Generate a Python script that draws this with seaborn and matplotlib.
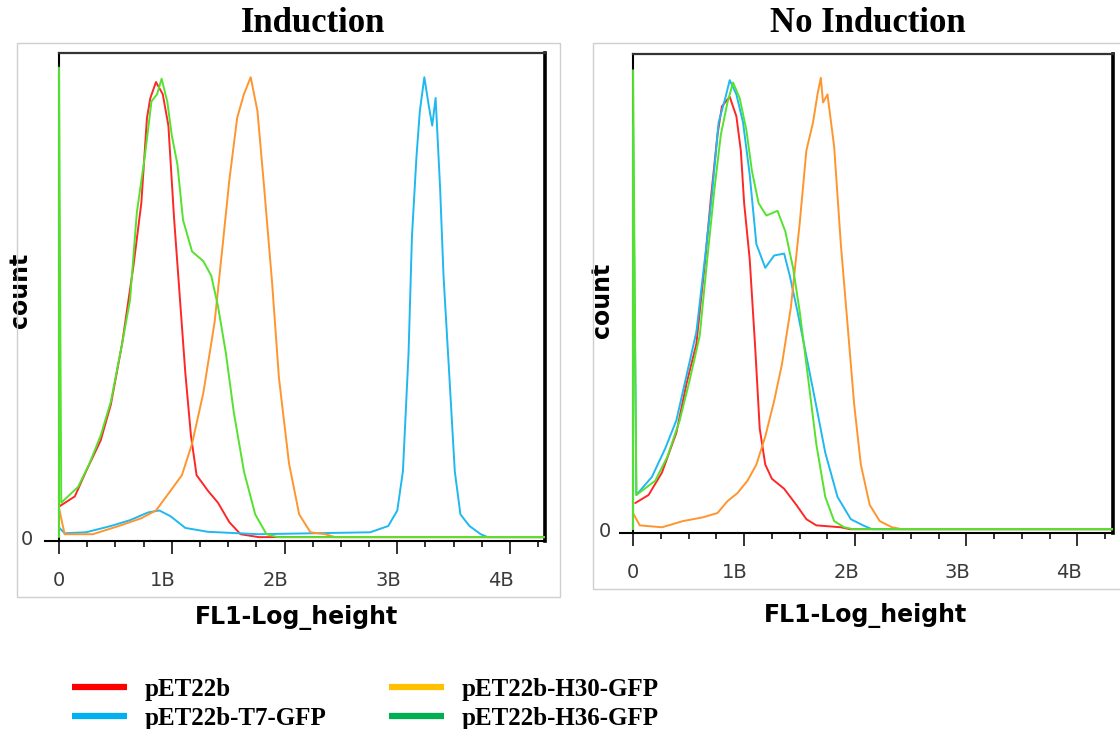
import numpy as np
import pandas as pd
import seaborn as sns
import matplotlib.pyplot as plt
from matplotlib.lines import Line2D
from matplotlib.patches import Rectangle
from matplotlib.transforms import ScaledTranslation

# ---- data (x in decades "B", y in % of plot height) ----
# Induction
ind_red_x = [0.0, 0.14, 0.24, 0.37, 0.46, 0.56, 0.66, 0.73, 0.78, 0.81, 0.86, 0.92, 0.97, 1.02,
             1.07, 1.12, 1.17, 1.22, 1.32, 1.41, 1.51, 1.61, 1.77, 4.31]
ind_red_y = [6.3, 8.4, 13.6, 20, 27.4, 40, 56, 69, 86.6, 90.7, 94, 91.5, 85, 66,
             50, 34, 21, 12.8, 9.6, 7.1, 3.1, 0.6, 0, 0]
ind_blue_x = [0.0, 0.05, 0.24, 0.46, 0.63, 0.79, 0.89, 0.99, 1.12, 1.32, 1.77, 2.76, 2.92, 3.0,
              3.05, 3.1, 3.13, 3.17, 3.2, 3.24, 3.28, 3.31, 3.34, 3.38, 3.41, 3.46, 3.51, 3.56,
              3.64, 3.74, 3.8, 4.31]
ind_blue_y = [2, 0.8, 1, 2.3, 3.5, 5.1, 5.5, 4.3, 1.9, 1.1, 0.6, 1, 2.3, 5.5,
              13.6, 38, 62, 78.5, 88, 95, 89, 85, 90.7, 72, 54, 34, 13.6, 4.7,
              2.3, 0.6, 0, 0]
ind_orange_x = [0.0, 0.05, 0.3, 0.53, 0.73, 0.86, 0.99, 1.09, 1.18, 1.28, 1.38, 1.45, 1.51, 1.58,
                1.64, 1.70, 1.76, 1.82, 1.89, 1.95, 2.04, 2.13, 2.23, 2.36, 2.45, 4.31]
ind_orange_y = [6, 0.6, 0.6, 2.3, 3.9, 5.5, 9.6, 12.8, 19.3, 29.8, 44.4, 60, 73.6, 86.6,
                91.5, 95, 88, 72, 52.5, 33, 15.2, 4.7, 1, 0.6, 0, 0]
ind_green_x = [0.0, 0.0, 0.02, 0.17, 0.27, 0.37, 0.46, 0.56, 0.63, 0.69, 0.76, 0.82, 0.87, 0.91,
               0.96, 1.0, 1.05, 1.1, 1.18, 1.28, 1.35, 1.41, 1.48, 1.55, 1.64, 1.74, 1.84, 1.94, 4.31]
ind_green_y = [0, 97, 7.1, 10.4, 15.2, 21, 28, 40, 49, 67, 78.5, 90, 91.5, 94.7,
               90, 83, 77, 65.5, 59, 57, 54, 47.7, 38, 25.8, 13.6, 4.7, 0.6, 0, 0]

# No Induction
no_red_x = [0.02, 0.14, 0.26, 0.39, 0.48, 0.57, 0.65, 0.7, 0.76, 0.8, 0.87, 0.93, 0.97, 1.0,
            1.05, 1.1, 1.14, 1.19, 1.25, 1.36, 1.47, 1.56, 1.65, 1.87, 1.95, 4.32]
no_red_y = [5.5, 7.2, 11.9, 20.3, 30.5, 39, 56.8, 69.5, 83, 89, 91, 86.9, 79.7, 68.6,
            56.8, 38, 21.2, 13.6, 10.6, 8.5, 5.1, 2.1, 0.8, 0.4, 0, 0]
no_blue_x = [0.0, 0.0, 0.03, 0.17, 0.29, 0.39, 0.48, 0.57, 0.65, 0.71, 0.77, 0.83, 0.87, 0.93,
             0.99, 1.05, 1.11, 1.19, 1.27, 1.36, 1.41, 1.48, 1.56, 1.64, 1.73, 1.84, 1.96,
             2.07, 2.15, 4.32]
no_blue_y = [0, 85, 7.2, 11, 17, 22.9, 32.2, 41.5, 57.6, 70.3, 85.6, 90.7, 94.5, 91.5,
             85.6, 74.6, 60, 55, 57.6, 58, 53.4, 45.8, 36.4, 27, 16.1, 6.8, 2.1,
             0.8, 0, 0]
no_orange_x = [0.0, 0.06, 0.26, 0.45, 0.63, 0.76, 0.85, 0.94, 1.03, 1.11, 1.19, 1.27, 1.34, 1.42,
               1.5, 1.56, 1.62, 1.66, 1.69, 1.71, 1.75, 1.81, 1.87, 1.93, 1.99, 2.05, 2.13,
               2.22, 2.33, 2.42, 4.32]
no_orange_y = [3.4, 0.8, 0.4, 1.7, 2.5, 3.4, 5.9, 7.6, 10.2, 13.6, 19.5, 27, 34.7, 46.6,
               64.4, 79.7, 85.6, 91.5, 95, 89.8, 91.5, 80.5, 60, 43.2, 26.3, 13.6, 5.1,
               1.7, 0.4, 0, 0]
no_green_x = [0.0, 0.0, 0.03, 0.2, 0.31, 0.42, 0.51, 0.6, 0.66, 0.73, 0.79, 0.85, 0.9, 0.96,
              1.02, 1.07, 1.13, 1.2, 1.3, 1.37, 1.44, 1.5, 1.56, 1.65, 1.73, 1.81, 1.9, 1.98, 4.32]
no_green_y = [0, 96.6, 7.2, 10.2, 15.3, 22.9, 31.4, 40.7, 55, 71, 83, 89.8, 94, 90.7,
              84, 75.4, 68.6, 66, 67, 62.7, 55, 45.8, 34.7, 17.8, 6.8, 1.7, 0.4, 0, 0]

samples = ["pET22b", "pET22b-T7-GFP", "pET22b-H30-GFP", "pET22b-H36-GFP"]
line_colors = ["#FF2626", "#1FB8F0", "#FF952E", "#55E22E"]
legend_colors = ["#FF0000", "#00B0F0", "#FFC000", "#00B050"]
tick_pos = [0, 1, 2, 3, 4]
tick_labels = ["0", "1B", "2B", "3B", "4B"]

panels = {
    "Induction": [(ind_red_x, ind_red_y), (ind_blue_x, ind_blue_y),
                  (ind_orange_x, ind_orange_y), (ind_green_x, ind_green_y)],
    "No Induction": [(no_red_x, no_red_y), (no_blue_x, no_blue_y),
                     (no_orange_x, no_orange_y), (no_green_x, no_green_y)],
}

sns.set_style("white")
plt.rcParams["font.family"] = ["DejaVu Sans"]

fig = plt.figure(figsize=(11.2, 7.29), dpi=100)

# light grey frames around each panel
fig.patches.append(Rectangle((0.0152, 0.181), 0.4848, 0.760, transform=fig.transFigure,
                             fill=False, edgecolor="#CFCFCF", lw=1.0))
fig.patches.append(Rectangle((0.5295, 0.192), 0.49, 0.749, transform=fig.transFigure,
                             fill=False, edgecolor="#CFCFCF", lw=1.0))

layout = {
    "Induction": dict(rect=[0.0402, 0.2579, 0.4464, 0.6694], xlim=(-0.124, 4.31),
                      title_x=0.2795, ylab=(-0.026, 0.514), xlab=(0.502, -0.131), ypad=19),
    "No Induction": dict(rect=[0.5536, 0.2689, 0.4402, 0.657], xlim=(-0.117, 4.32),
                         title_x=0.775, ylab=(-0.012, 0.486), xlab=(0.497, -0.146), ypad=16),
}

for name, series in panels.items():
    cfg = layout[name]
    ax = fig.add_axes(cfg["rect"])
    for (xs, ys), s, c in zip(series, samples, line_colors):
        df = pd.DataFrame({"x": xs, "y": ys})
        sns.lineplot(data=df, x="x", y="y", ax=ax, color=c, lw=1.4,
                     estimator=None, sort=False, label=s, legend=False)
    ax.set_xlim(*cfg["xlim"])
    ax.set_ylim(-0.8, 100)

    ax.spines["left"].set_position(("data", 0))
    ax.spines["left"].set_color("black")
    ax.spines["left"].set_linewidth(1.5)
    ax.spines["bottom"].set_color("black")
    ax.spines["bottom"].set_linewidth(1.5)
    ax.spines["top"].set_bounds(0, cfg["xlim"][1])
    ax.spines["top"].set_color("#333333")
    ax.spines["top"].set_linewidth(1.6)
    ax.spines["right"].set_color("black")
    ax.spines["right"].set_linewidth(2.6)
    for sp in ax.spines.values():
        sp.set_zorder(1)

    ax.set_xticks(tick_pos)
    ax.set_xticklabels(tick_labels)
    ax.set_xticks(np.arange(0, cfg["xlim"][1], 0.25), minor=True)
    ax.tick_params(axis="x", which="both", bottom=True)
    ax.tick_params(axis="x", which="major", length=9.5, width=1.3, direction="out",
                   color="#222222", pad=12, labelsize=14, labelcolor="#3A3A3A")
    ax.tick_params(axis="x", which="minor", length=4.5, width=1.3, direction="out",
                   color="#222222")
    ax.set_yticks([0])
    ax.set_yticklabels(["0"])
    ax.tick_params(axis="y", left=True, length=0, pad=cfg["ypad"], labelsize=14,
                   labelcolor="#3A3A3A")
    for lab in ax.get_xticklabels()[1:]:
        lab.set_transform(lab.get_transform() + ScaledTranslation(-9 / 100, 0, fig.dpi_scale_trans))

    ax.set_ylabel("count", fontsize=17, fontweight="bold", color="black")
    ax.yaxis.set_label_coords(*cfg["ylab"])
    ax.set_xlabel("FL1-Log_height", fontsize=17, fontweight="bold", color="black")
    ax.xaxis.set_label_coords(*cfg["xlab"])

    fig.text(cfg["title_x"], 1 - 24 / 729, name, ha="center", va="center", color="black",
             fontsize=25, fontweight="bold", family=["Liberation Serif", "DejaVu Serif"])

handles = [Line2D([], [], color=c, lw=4.5, solid_capstyle="butt") for c in legend_colors]
leg = fig.legend(handles, samples, ncol=2, loc="center left", bbox_to_anchor=(0.0643, 0.0343),
                 frameon=False, borderpad=0, borderaxespad=0, handlelength=2.2, handletextpad=0.7,
                 columnspacing=2.5, labelspacing=0.25,
                 prop={"family": ["Liberation Serif", "DejaVu Serif"], "weight": "bold", "size": 18})
for t in leg.get_texts():
    t.set_color("black")

fig.savefig("out.png", dpi=100)
